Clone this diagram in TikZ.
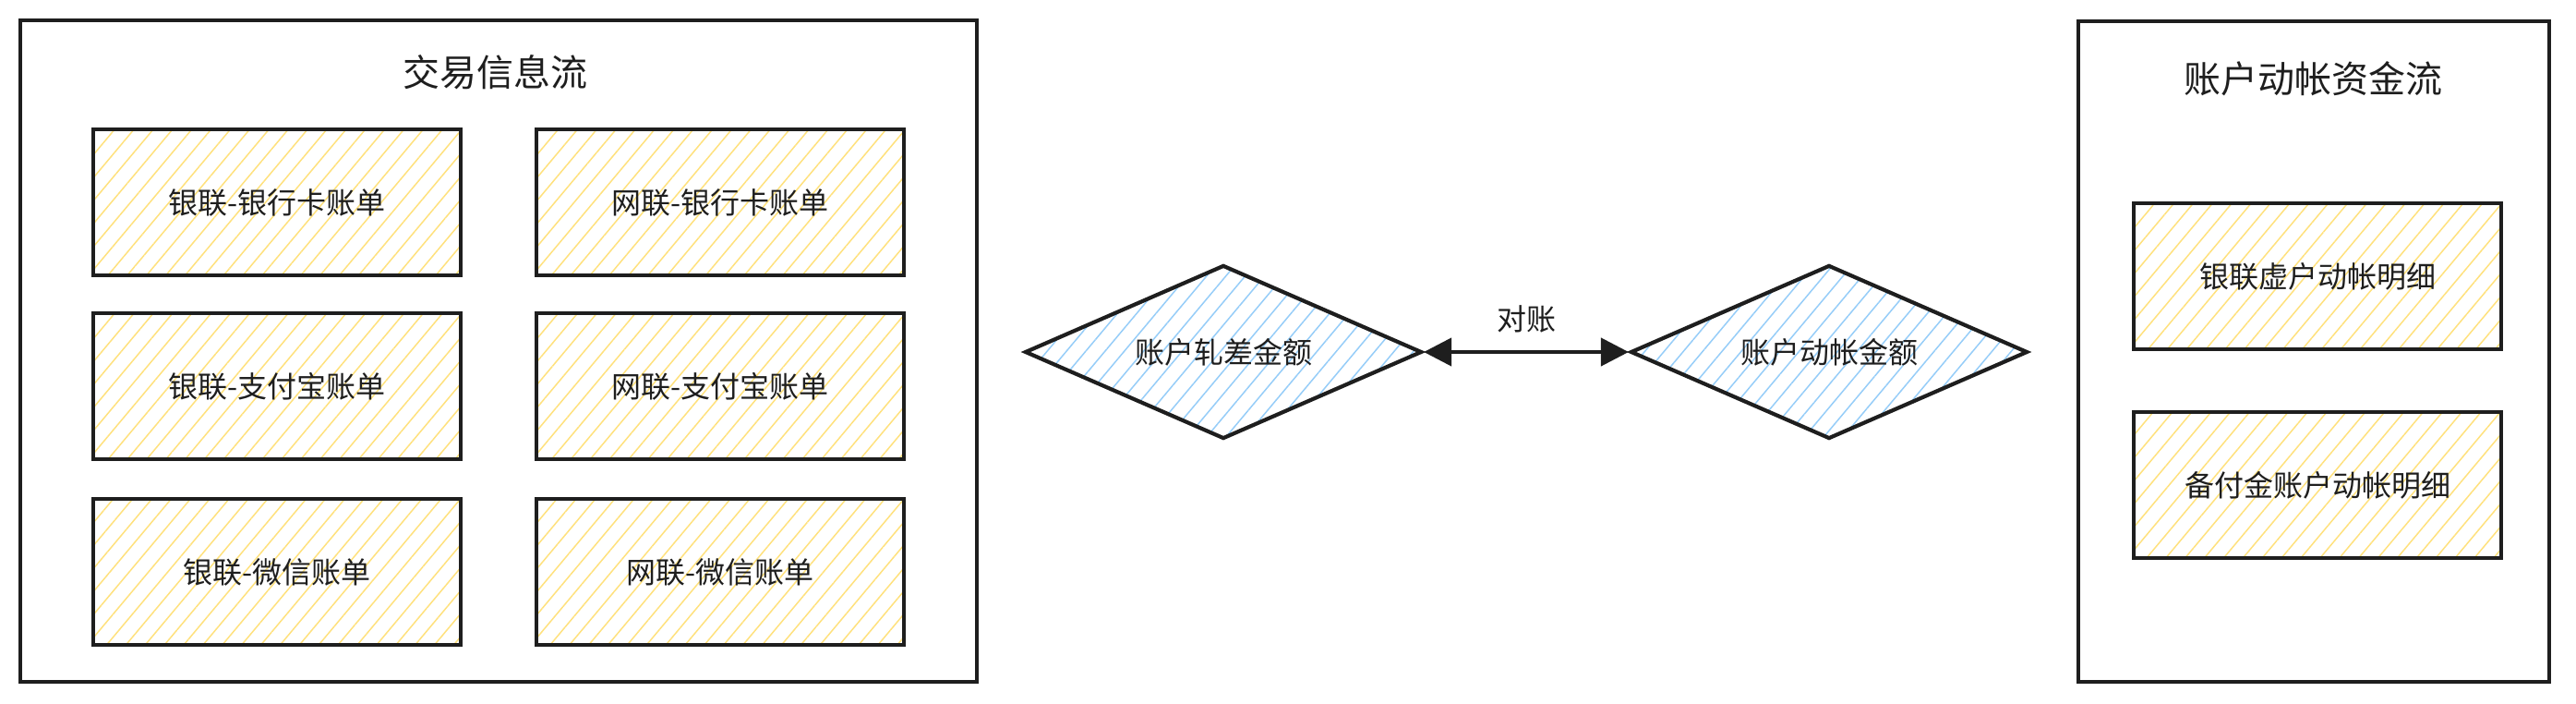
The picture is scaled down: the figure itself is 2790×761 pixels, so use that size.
\documentclass[tikz,border=0pt]{standalone}
\usepackage{fontspec}
\setmainfont{Noto Sans CJK SC}
\usetikzlibrary{positioning,arrows.meta,shapes.geometric,patterns.meta}
\definecolor{rcInk}{RGB}{30,30,30}
\definecolor{rcYellow}{RGB}{255,225,125}
\definecolor{rcBlue}{RGB}{150,205,248}

\begin{document}
\begin{tikzpicture}[x=0.5pt,y=-0.5pt,
  frame/.style={draw=rcInk, line width=2.1pt},
  bill/.style={draw=rcInk, line width=2.1pt, minimum width=199pt, minimum height=79pt,
    pattern={Lines[angle=50,distance=8pt,line width=0.75pt]}, pattern color=rcYellow,
    text=rcInk, font=\fontsize{16}{18}\selectfont},
  sum/.style={diamond, aspect=2.3, inner sep=2pt, draw=rcInk, line width=2.1pt,
    minimum width=215pt, minimum height=94pt,
    pattern={Lines[angle=50,distance=8pt,line width=0.75pt]}, pattern color=rcBlue,
    text=rcInk, font=\fontsize{16}{18}\selectfont},
  head/.style={text=rcInk, font=\fontsize{20}{24}\selectfont}]
  \useasboundingbox (0,0) rectangle (2790,761);

  % Transaction flow
  \node[frame, minimum width=518pt, minimum height=358pt] (txFlow) at (540,380) {};
  \node[head] (txTitle) at (536,78) {交易信息流};
  \node[bill] (ylCard) at (300,219) {银联-银行卡账单};
  \node[bill] (wlCard) at (780,219) {网联-银行卡账单};
  \node[bill] (ylAli) at (300,418) {银联-支付宝账单};
  \node[bill] (wlAli) at (780,418) {网联-支付宝账单};
  \node[bill] (ylWx) at (300,619) {银联-微信账单};
  \node[bill] (wlWx) at (780,619) {网联-微信账单};

  % Account fund flow
  \node[frame, minimum width=255pt, minimum height=357.5pt] (fundFlow) at (2506,380.5) {};
  \node[head] (fundTitle) at (2505,85) {账户动帐资金流};
  \node[bill] (ylVirtual) at (2510,299) {银联虚户动帐明细};
  \node[bill] (reserve) at (2510,525) {备付金账户动帐明细};

  % Reconciliation
  \node[sum] (gapSum) at (1325,381) {账户轧差金额};
  \node[sum] (moveSum) at (1981,381) {账户动帐金额};
  \draw[rcInk, line width=2.1pt, {Triangle[length=15pt,width=15pt]}-{Triangle[length=15pt,width=15pt]}]
    (gapSum.east) -- node[above, yshift=6pt, text=rcInk, font=\fontsize{16}{18}\selectfont] {对账} (moveSum.west);
\end{tikzpicture}
\end{document}
